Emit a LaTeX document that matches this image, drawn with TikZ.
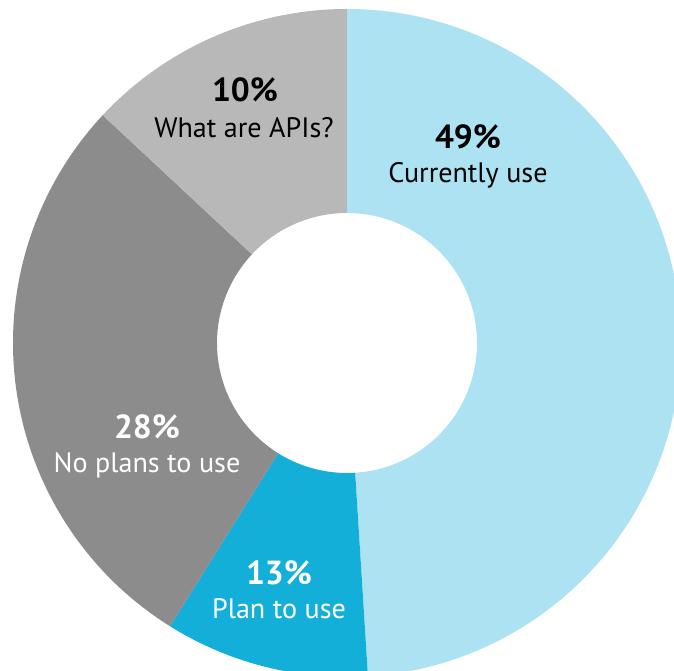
\documentclass[tikz,border=0pt]{standalone}
\usepackage{fontspec}
\setmainfont{PT Sans}
\definecolor{useblue}{HTML}{ADE2F2}
\definecolor{planblue}{HTML}{14AFD8}
\definecolor{nogrey}{HTML}{8C8C8C}
\definecolor{whatgrey}{HTML}{B8B8B8}

\begin{document}
\begin{tikzpicture}[x=0.02cm,y=0.02cm,
	pct/.style={font=\fontsize{19}{21}\selectfont\bfseries},
	lbl/.style={font=\fontsize{16}{18}\selectfont}]
		\useasboundingbox (-347,-328) rectangle (327,343);

		\fill[useblue] (90:334) arc (90:-86.4:334) -- (-86.4:130) arc (-86.4:90:130) -- cycle;
		\fill[planblue] (-86.4:334) arc (-86.4:-122:334) -- (-122:130) arc (-122:-86.4:130) -- cycle;
		\fill[nogrey] (-122:334) arc (-122:-223:334) -- (-223:130) arc (-223:-122:130) -- cycle;
		\fill[whatgrey] (137:334) arc (137:90:334) -- (90:130) arc (90:137:130) -- cycle;


		\node[pct] (usepct) at (121,206) {49\%};
		\node[lbl] (uselbl) at (121,168) {Currently use};

		\node[pct] (whatpct) at (-102,253) {10\%};
		\node[lbl] (whatlbl) at (-103,215) {What are APIs?};

		\node[pct,white] (nopct) at (-200,-84) {28\%};
		\node[lbl,white] (nolbl) at (-200,-122) {No plans to use};

		\node[pct,white] (planpct) at (-68,-230) {13\%};
		\node[lbl,white] (planlbl) at (-68,-266) {Plan to use};

	\end{tikzpicture}
\end{document}
